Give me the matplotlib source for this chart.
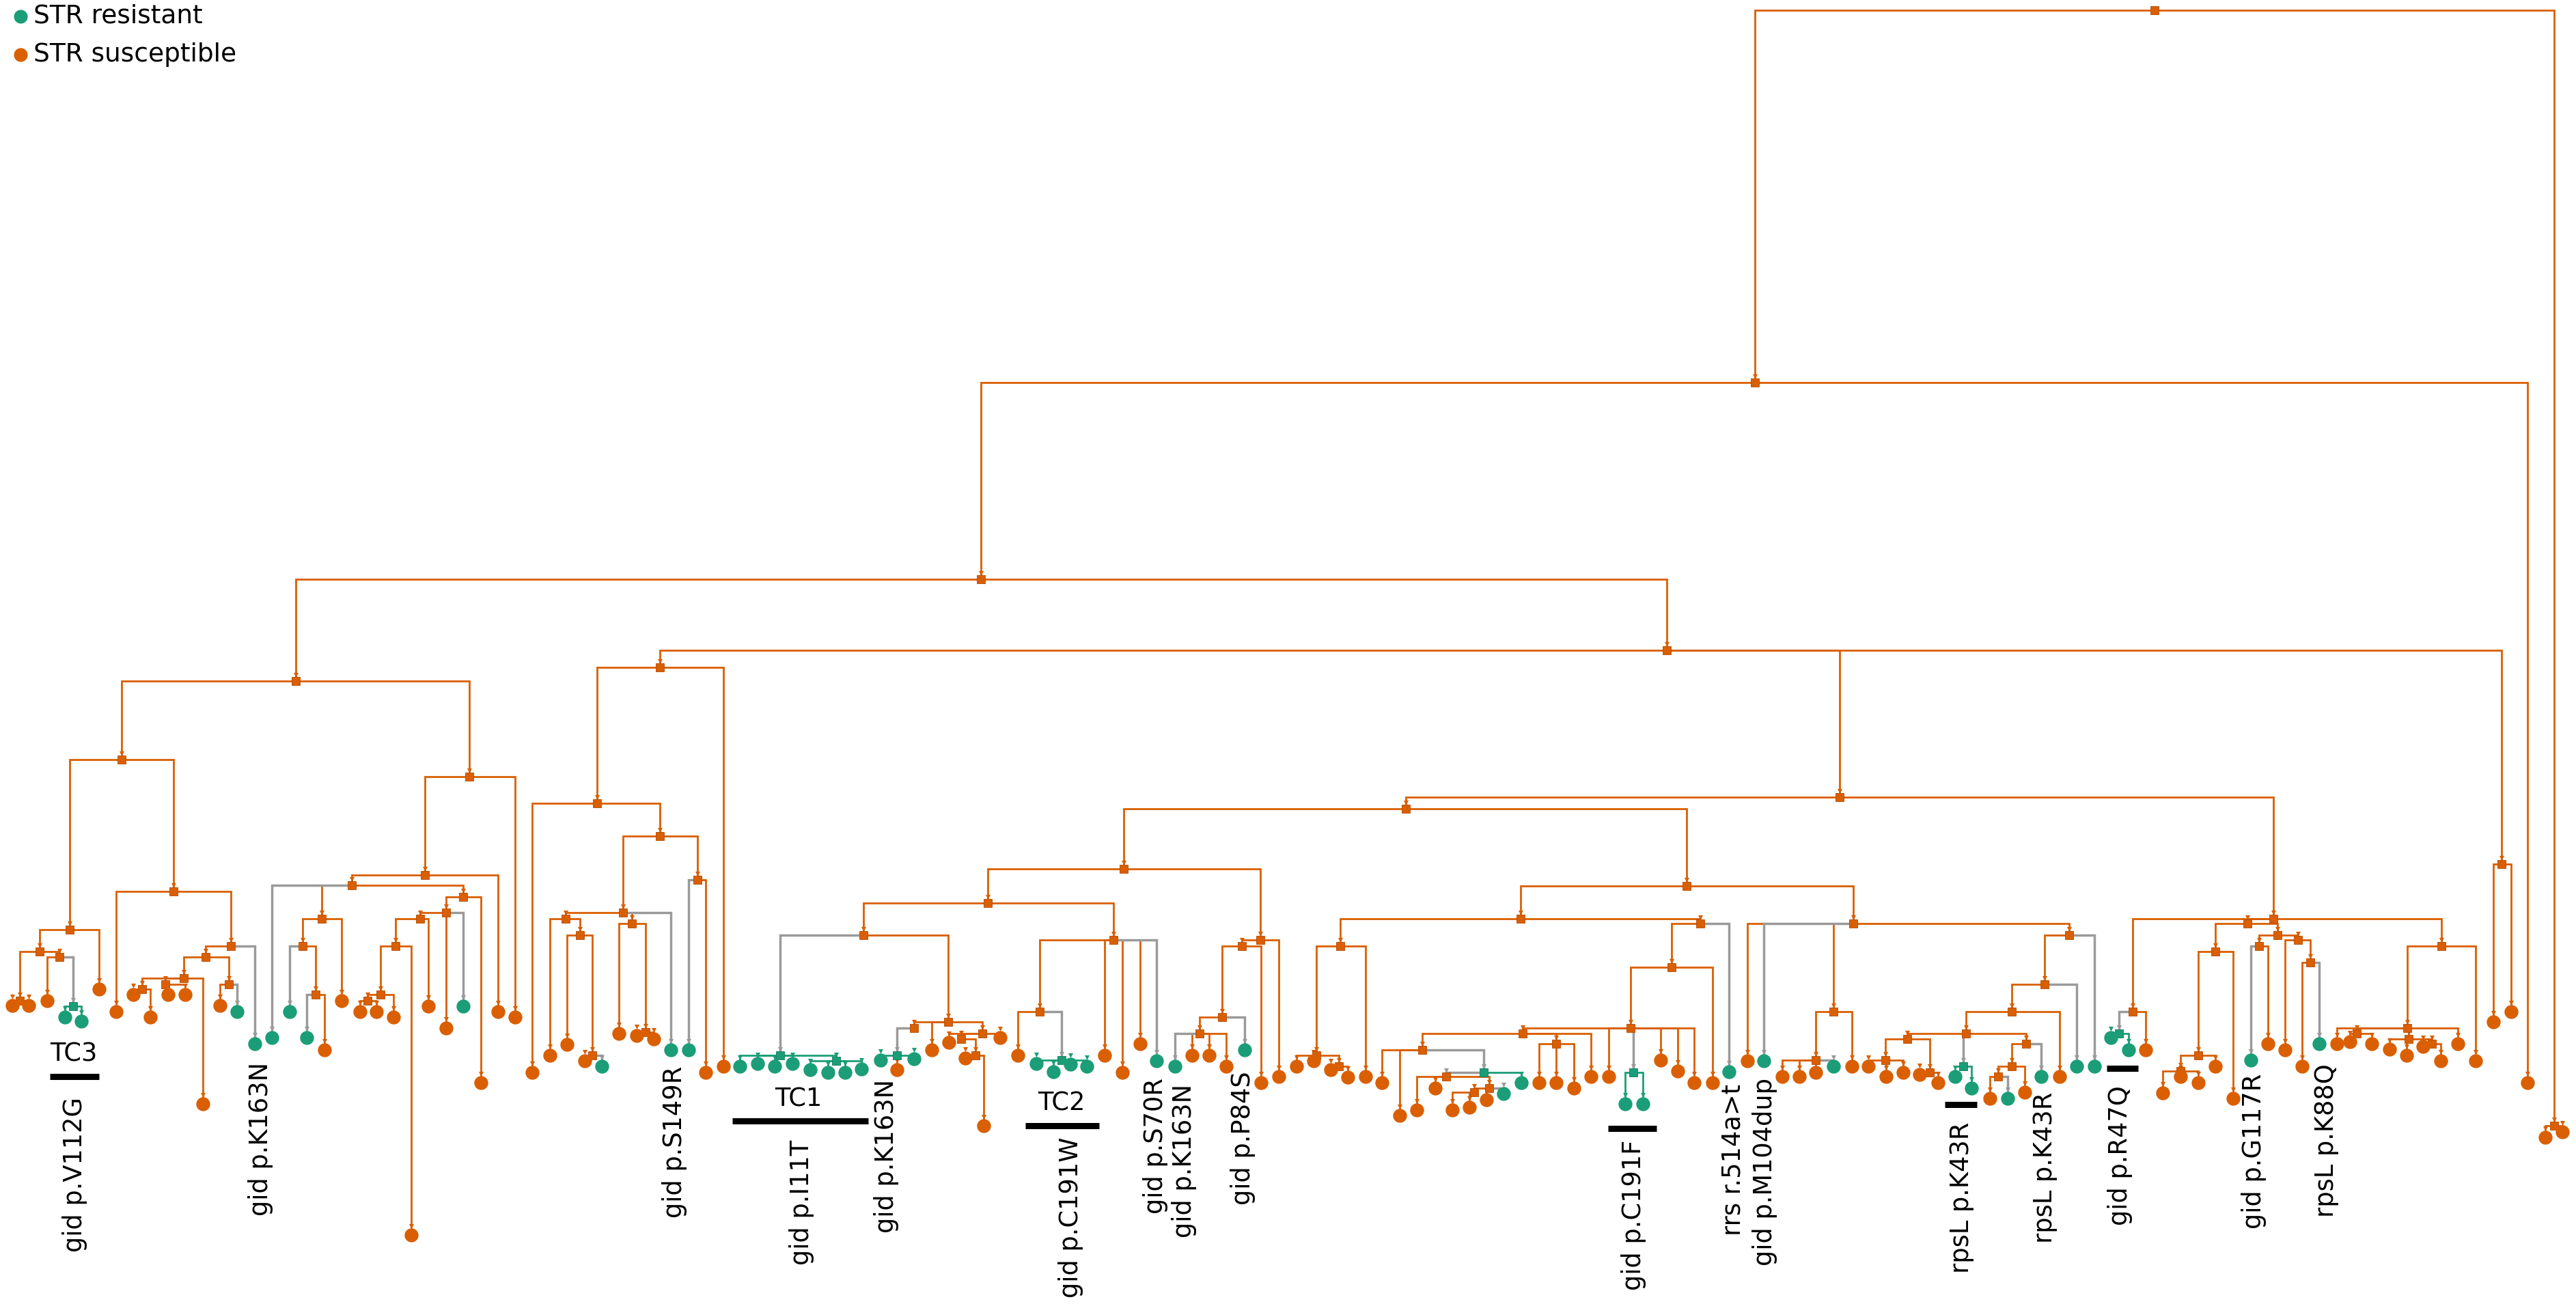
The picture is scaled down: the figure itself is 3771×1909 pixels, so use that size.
import matplotlib
matplotlib.use("Agg")
import matplotlib.pyplot as plt

# state colours (Dark2)
ORANGE = "#d95f02"
GREEN = "#1b9e77"
GREY = "#9a9a9a"

# tree nodes: (name, parent, x, depth, state); leaves have no name
# x = tip order position, depth = distance from root (drawn downwards)
backbone = [
    ("root", None, 3154, 15, "S"),
    ("A", "root", 2569, 560, "S"),
    ("B", "root", 3739, 1648, "S"),
    ("", "B", 3726, 1665, "S"),
    ("", "B", 3751, 1657, "S"),
    ("", "A", 3700, 1585, "S"),
    ("C", "A", 1436, 848, "S"),
    ("D", "C", 433, 997, "S"),
    ("E", "C", 2440, 952, "S"),
    ("Ec", "E", 3662, 1265, "S"),
    ("", "Ec", 3650, 1496, "S"),
    ("", "Ec", 3676, 1481, "S"),
]

clade_d1 = [
    ("D1", "D", 178, 1112, "S"),
    ("D1a", "D1", 102, 1361, "S"),
    ("n1", "D1a", 58, 1393, "S"),
    ("", "D1a", 145, 1448, "S"),
    ("n2", "n1", 29, 1465, "S"),
    ("", "n2", 18, 1472, "S"),
    ("", "n2", 42, 1472, "S"),
    ("n3", "n1", 87, 1401, "S"),
    ("", "n3", 69, 1465, "S"),
    ("g1", "n3", 107, 1473, "R"),
    ("", "g1", 95, 1489, "R"),
    ("", "g1", 119, 1495, "R"),
    ("D1b", "D1", 254, 1305, "S"),
    ("", "D1b", 170, 1481, "S"),
    ("n4", "D1b", 338, 1385, "S"),
    ("", "n4", 373, 1528, "R"),
    ("n5", "n4", 301, 1401, "S"),
    ("n6", "n5", 269, 1432, "S"),
    ("n7", "n5", 335, 1441, "S"),
    ("n8", "n6", 208, 1448, "S"),
    ("", "n8", 195, 1456, "S"),
    ("", "n8", 220, 1489, "S"),
    ("n9", "n6", 242, 1441, "S"),
    ("", "n9", 246, 1456, "S"),
    ("", "n9", 271, 1456, "S"),
    ("", "n6", 297, 1616, "S"),
    ("", "n7", 322, 1472, "S"),
    ("", "n7", 347, 1481, "R"),
]

clade_d2 = [
    ("D2", "D", 687, 1137, "S"),
    ("D2a", "D2", 622, 1281, "S"),
    ("", "D2", 754, 1489, "S"),
    ("", "D2a", 729, 1481, "S"),
    ("m1", "D2a", 515, 1296, "S"),
    ("", "m1", 398, 1519, "R"),
    ("m2", "m1", 471, 1345, "S"),
    ("m3", "m2", 443, 1385, "S"),
    ("", "m2", 500, 1465, "S"),
    ("", "m3", 424, 1481, "R"),
    ("m4", "m3", 462, 1456, "S"),
    ("", "m4", 449, 1519, "R"),
    ("", "m4", 475, 1537, "S"),
    ("m5", "m1", 678, 1313, "S"),
    ("m6", "m5", 653, 1336, "S"),
    ("", "m5", 704, 1585, "S"),
    ("m7", "m6", 615, 1345, "S"),
    ("", "m6", 653, 1505, "S"),
    ("", "m6", 678, 1473, "R"),
    ("m8", "m7", 579, 1385, "S"),
    ("", "m7", 627, 1473, "S"),
    ("m9", "m8", 557, 1456, "S"),
    ("", "m8", 602, 1808, "S"),
    ("m10", "m9", 538, 1465, "S"),
    ("", "m10", 527, 1481, "S"),
    ("", "m10", 551, 1481, "S"),
    ("", "m9", 576, 1489, "S"),
]

clade_ea = [
    ("Ea", "E", 966, 977, "S"),
    ("E1", "Ea", 874, 1176, "S"),
    ("", "E1", 779, 1570, "S"),
    ("E2", "E1", 966, 1224, "S"),
    ("", "Ea", 1059, 1561, "S"),
    ("E3", "E2", 912, 1336, "S"),
    ("E4", "E2", 1021, 1288, "S"),
    ("", "E4", 1008, 1537, "R"),
    ("", "E4", 1033, 1570, "S"),
    ("E5", "E3", 828, 1345, "S"),
    ("E6", "E3", 925, 1352, "S"),
    ("", "E3", 982, 1537, "R"),
    ("", "E5", 805, 1545, "S"),
    ("E7", "E5", 849, 1369, "S"),
    ("", "E7", 830, 1529, "S"),
    ("E8", "E7", 867, 1545, "S"),
    ("", "E8", 856, 1553, "S"),
    ("", "E8", 881, 1561, "R"),
    ("", "E6", 906, 1513, "S"),
    ("E9", "E6", 945, 1511, "S"),
    ("", "E9", 932, 1516, "S"),
    ("", "E9", 957, 1521, "S"),
]

clade_f = [
    ("Eb", "E", 2693, 1167, "S"),
    ("F", "Eb", 2058, 1184, "S"),
    ("F1", "F", 1645, 1272, "S"),
    ("F2", "F1", 1446, 1322, "S"),
    ("T", "F2", 1264, 1369, "S"),
    ("tc1", "T", 1142, 1545, "R"),
    ("", "tc1", 1083, 1561, "R"),
    ("", "tc1", 1109, 1557, "R"),
    ("", "tc1", 1134, 1561, "R"),
    ("", "tc1", 1160, 1557, "R"),
    ("tc1b", "tc1", 1224, 1553, "R"),
    ("", "tc1b", 1186, 1566, "R"),
    ("", "tc1b", 1212, 1570, "R"),
    ("", "tc1b", 1237, 1570, "R"),
    ("", "tc1b", 1261, 1565, "R"),
    ("T1", "T", 1388, 1496, "S"),
    ("T2", "T1", 1338, 1505, "S"),
    ("tg", "T2", 1313, 1545, "R"),
    ("", "tg", 1289, 1552, "R"),
    ("", "tg", 1338, 1550, "R"),
    ("", "T2", 1313, 1566, "S"),
    ("", "T1", 1364, 1537, "S"),
    ("T3", "T1", 1438, 1513, "S"),
    ("", "T3", 1389, 1526, "S"),
    ("T4", "T3", 1407, 1521, "S"),
    ("", "T3", 1464, 1519, "S"),
    ("T5", "T4", 1428, 1545, "S"),
    ("", "T5", 1413, 1549, "S"),
    ("", "T5", 1440, 1648, "S"),
    ("F3", "F2", 1630, 1376, "S"),
    ("F4", "F3", 1522, 1481, "S"),
    ("", "F4", 1490, 1545, "S"),
    ("tc2", "F4", 1554, 1552, "R"),
    ("", "tc2", 1517, 1557, "R"),
    ("", "tc2", 1542, 1569, "R"),
    ("", "tc2", 1567, 1558, "R"),
    ("", "tc2", 1591, 1561, "R"),
    ("", "F3", 1617, 1545, "S"),
    ("", "F3", 1643, 1570, "S"),
    ("", "F3", 1669, 1528, "S"),
    ("", "F3", 1693, 1553, "R"),
    ("F5", "F1", 1845, 1376, "S"),
    ("F6", "F5", 1818, 1385, "S"),
    ("", "F6", 1846, 1585, "S"),
    ("", "F5", 1872, 1576, "S"),
    ("F7", "F6", 1789, 1489, "S"),
    ("F8", "F7", 1756, 1513, "S"),
    ("", "F7", 1822, 1537, "R"),
    ("", "F8", 1720, 1561, "R"),
    ("", "F8", 1745, 1545, "S"),
    ("", "F8", 1770, 1545, "S"),
    ("", "F8", 1795, 1561, "S"),
]

clade_g = [
    ("G", "F", 2469, 1297, "S"),
    ("G1", "G", 2226, 1345, "S"),
    ("G2", "G1", 1962, 1385, "S"),
    ("G3", "G2", 1927, 1545, "S"),
    ("", "G2", 1999, 1576, "S"),
    ("", "G3", 1898, 1561, "S"),
    ("", "G3", 1923, 1553, "S"),
    ("G4", "G3", 1960, 1561, "S"),
    ("", "G4", 1948, 1566, "S"),
    ("", "G4", 1973, 1577, "S"),
    ("G5", "G1", 2489, 1352, "S"),
    ("G6", "G5", 2447, 1416, "S"),
    ("", "G5", 2531, 1569, "R"),
    ("G7", "G6", 2387, 1505, "S"),
    ("", "G6", 2507, 1585, "S"),
    ("G8", "G7", 2229, 1513, "S"),
    ("", "G7", 2355, 1576, "S"),
    ("tcf", "G7", 2391, 1570, "R"),
    ("", "tcf", 2379, 1616, "R"),
    ("", "tcf", 2405, 1616, "R"),
    ("", "G7", 2431, 1552, "S"),
    ("", "G7", 2456, 1568, "S"),
    ("", "G7", 2480, 1585, "S"),
    ("G9", "G8", 2082, 1537, "S"),
    ("G10", "G8", 2278, 1528, "S"),
    ("", "G8", 2329, 1576, "S"),
    ("", "G10", 2253, 1585, "S"),
    ("", "G10", 2278, 1585, "S"),
    ("", "G10", 2304, 1593, "S"),
    ("", "G9", 2023, 1585, "S"),
    ("", "G9", 2049, 1633, "S"),
    ("g9", "G9", 2172, 1570, "R"),
    ("G11", "g9", 2117, 1576, "S"),
    ("", "g9", 2227, 1585, "R"),
    ("", "G11", 2074, 1625, "S"),
    ("", "G11", 2101, 1593, "S"),
    ("G12", "G11", 2180, 1593, "S"),
    ("G13", "G12", 2158, 1599, "S"),
    ("", "G12", 2201, 1601, "R"),
    ("", "G12", 2176, 1610, "S"),
    ("", "G13", 2126, 1625, "S"),
    ("", "G13", 2151, 1621, "S"),
]

clade_h = [
    ("H", "G", 2713, 1352, "S"),
    ("", "H", 2558, 1553, "S"),
    ("", "H", 2582, 1553, "R"),
    ("H1", "H", 2684, 1481, "S"),
    ("H2", "H1", 2658, 1552, "S"),
    ("", "H1", 2711, 1561, "S"),
    ("", "H2", 2609, 1576, "S"),
    ("", "H2", 2634, 1576, "S"),
    ("", "H2", 2658, 1570, "S"),
    ("", "H2", 2684, 1561, "R"),
    ("H3", "H", 3029, 1369, "S"),
    ("H4", "H3", 2993, 1441, "S"),
    ("", "H3", 3066, 1561, "R"),
    ("H5", "H4", 2945, 1481, "S"),
    ("", "H4", 3040, 1561, "R"),
    ("H6", "H5", 2878, 1513, "S"),
    ("", "H5", 3015, 1576, "S"),
    ("H7", "H6", 2792, 1521, "S"),
    ("tck", "H6", 2874, 1561, "R"),
    ("H8", "H6", 2966, 1528, "S"),
    ("H9", "H7", 2760, 1552, "S"),
    ("H10", "H7", 2825, 1570, "S"),
    ("", "H9", 2735, 1561, "S"),
    ("", "H9", 2761, 1576, "S"),
    ("", "H9", 2786, 1570, "S"),
    ("", "H10", 2810, 1573, "S"),
    ("", "H10", 2837, 1585, "S"),
    ("", "tck", 2862, 1576, "R"),
    ("", "tck", 2886, 1593, "R"),
    ("H11", "H8", 2945, 1561, "S"),
    ("", "H8", 2988, 1576, "R"),
    ("H12", "H11", 2925, 1576, "S"),
    ("", "H11", 2964, 1599, "S"),
    ("", "H12", 2913, 1608, "S"),
    ("", "H12", 2939, 1608, "R"),
]

clade_k = [
    ("K", "Eb", 3328, 1345, "S"),
    ("K1", "K", 3122, 1481, "S"),
    ("k1", "K1", 3102, 1513, "R"),
    ("", "k1", 3090, 1519, "R"),
    ("", "k1", 3116, 1537, "R"),
    ("", "K1", 3141, 1537, "S"),
    ("K2", "K", 3290, 1352, "S"),
    ("K3", "K2", 3243, 1393, "S"),
    ("K4", "K2", 3334, 1369, "S"),
    ("K5", "K4", 3307, 1385, "S"),
    ("K6", "K4", 3364, 1376, "S"),
    ("", "K5", 3295, 1552, "R"),
    ("", "K5", 3320, 1528, "S"),
    ("", "K6", 3345, 1537, "S"),
    ("K7", "K6", 3382, 1409, "S"),
    ("", "K7", 3370, 1561, "S"),
    ("", "K7", 3395, 1528, "R"),
    ("K8", "K3", 3218, 1545, "S"),
    ("", "K3", 3269, 1608, "S"),
    ("K9", "K8", 3192, 1568, "S"),
    ("", "K8", 3243, 1561, "S"),
    ("", "K9", 3166, 1600, "S"),
    ("", "K9", 3192, 1576, "S"),
    ("", "K9", 3218, 1585, "S"),
    ("K10", "K", 3574, 1385, "S"),
    ("K11", "K10", 3524, 1505, "S"),
    ("", "K10", 3624, 1553, "S"),
    ("", "K11", 3421, 1528, "S"),
    ("K12", "K11", 3450, 1513, "S"),
    ("", "K12", 3440, 1525, "S"),
    ("", "K12", 3472, 1528, "S"),
    ("K13", "K11", 3526, 1521, "S"),
    ("", "K11", 3598, 1528, "S"),
    ("", "K13", 3498, 1536, "S"),
    ("", "K13", 3523, 1545, "S"),
    ("K14", "K13", 3560, 1528, "S"),
    ("", "K14", 3547, 1532, "S"),
    ("", "K14", 3573, 1553, "S"),
]

# mutation annotations (vertical text) and transmission clusters
mut_labels = ["gid p.V112G", "gid p.K163N", "gid p.S149R", "gid p.I11T",
              "gid p.K163N", "gid p.C191W", "gid p.S70R", "gid p.K163N",
              "gid p.P84S", "gid p.C191F", "rrs r.514a>t", "gid p.M104dup",
              "rpsL p.K43R", "rpsL p.K43R", "gid p.R47Q", "gid p.G117R",
              "rpsL p.K88Q"]
mut_x = [110, 382, 987, 1173, 1297, 1567, 1691, 1734, 1820, 2391, 2537,
         2584, 2872, 2994, 3104, 3300, 3405]
mut_top = [1606, 1555, 1561, 1669, 1580, 1665, 1578, 1587, 1568, 1669,
           1587, 1578, 1643, 1599, 1589, 1572, 1557]

bar_x0 = [73, 1072, 1501, 2354, 2847, 3084]
bar_x1 = [145, 1271, 1609, 2425, 2894, 3130]
bar_y = [1576, 1641, 1648, 1652, 1617, 1564]

tc_labels = ["TC3", "TC1", "TC2"]
tc_x = [108, 1169, 1554]
tc_y = [1543, 1609, 1615]

legend_labels = ["STR resistant", "STR susceptible"]
legend_states = ["R", "S"]

nodes = backbone + clade_d1 + clade_d2 + clade_ea + clade_f + clade_g + clade_h + clade_k
by_name = {n[0]: n for n in nodes if n[0]}
parents = {n[1] for n in nodes if n[1]}
colour = {"S": ORANGE, "R": GREEN}

fig = plt.figure(figsize=(37.71, 19.09), dpi=100)
ax = fig.add_axes([0, 0, 1, 1])
ax.set_xlim(0, 3771)
ax.set_ylim(1909, 0)
ax.axis("off")

# edges: elbow from parent down to child, orange first, grey/green on top
for pass_no in range(2):
    for name, par, x, y, st in nodes:
        if par is None:
            continue
        p = by_name[par]
        if p[4] != st:
            c, lw, z = GREY, 2.5, 3
        else:
            c, lw, z = colour[st], 2.0, 2 if st == "S" else 4
        if (pass_no == 0) != (c == ORANGE):
            continue
        ax.plot([p[2], x, x], [p[3], p[3], y], color=c, lw=lw,
                solid_joinstyle="miter", solid_capstyle="butt", zorder=z)
        leaf = name not in parents
        ax.scatter([x], [y - (13 if leaf else 9)], marker="v", s=26,
                   color=c, linewidths=0, zorder=z + 0.5)

# internal nodes as small squares
for name, par, x, y, st in nodes:
    if name in parents:
        ax.scatter([x], [y], marker="s", s=70, color=colour[st],
                   edgecolors="#b34a00" if st == "S" else "#137a5c",
                   linewidths=0.6, zorder=6)

# tips
for name, par, x, y, st in nodes:
    if name not in parents:
        ax.scatter([x], [y], marker="o", s=215, color=colour[st],
                   linewidths=0, zorder=7)

for lab, x, y in zip(mut_labels, mut_x, mut_top):
    ax.text(x, y, lab, rotation=90, ha="center", va="top", fontsize=26.5,
            color="black", zorder=8)

for x0, x1, y in zip(bar_x0, bar_x1, bar_y):
    ax.plot([x0, x1], [y, y], color="black", lw=6.5, solid_capstyle="butt", zorder=8)

for lab, x, y in zip(tc_labels, tc_x, tc_y):
    ax.text(x, y, lab, ha="center", va="center", fontsize=26.5, zorder=8)

for i, (lab, st) in enumerate(zip(legend_labels, legend_states)):
    ax.scatter([30], [24 + 56 * i], marker="o", s=210, color=colour[st], linewidths=0)
    ax.text(49, 24 + 56 * i, lab, ha="left", va="center", fontsize=27)

fig.savefig("out.png", dpi=100, facecolor="white")
